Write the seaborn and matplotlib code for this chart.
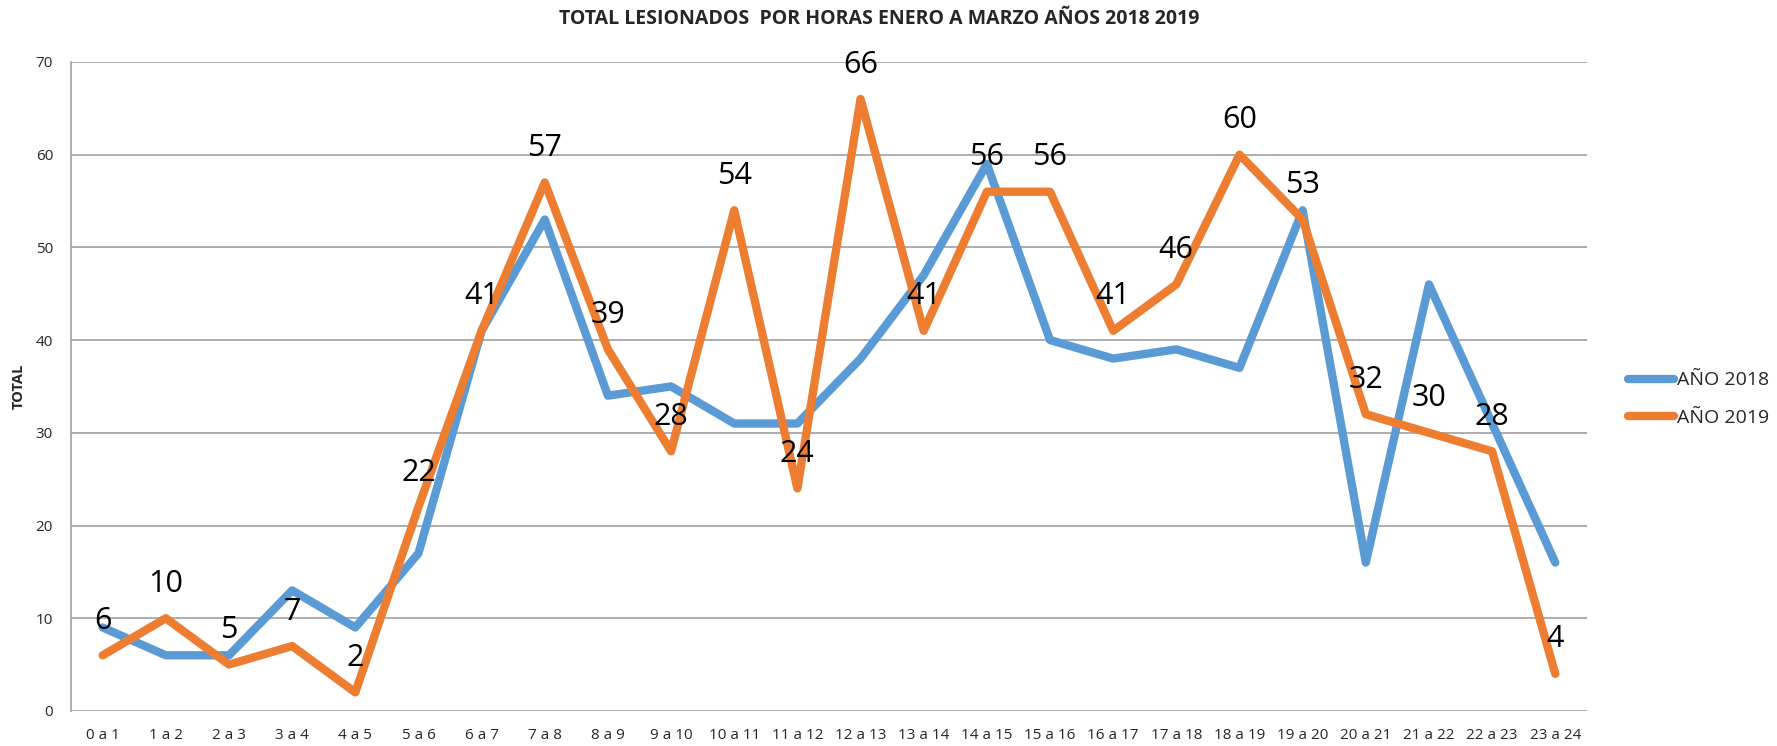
import pandas as pd
import matplotlib
matplotlib.use('Agg')
import matplotlib.pyplot as plt
import seaborn as sns

horas = ['0 a 1', '1 a 2', '2 a 3', '3 a 4', '4 a 5', '5 a 6', '6 a 7', '7 a 8',
         '8 a 9', '9 a 10', '10 a 11', '11 a 12', '12 a 13', '13 a 14', '14 a 15',
         '15 a 16', '16 a 17', '17 a 18', '18 a 19', '19 a 20', '20 a 21',
         '21 a 22', '22 a 23', '23 a 24']
anio_2018 = [9, 6, 6, 13, 9, 17, 41, 53, 34, 35, 31, 31, 38, 47, 59, 40, 38, 39,
             37, 54, 16, 46, 31, 16]
anio_2019 = [6, 10, 5, 7, 2, 22, 41, 57, 39, 28, 54, 24, 66, 41, 56, 56, 41, 46,
             60, 53, 32, 30, 28, 4]

df = pd.DataFrame({
    'hora': horas * 2,
    'pos': list(range(len(horas))) * 2,
    'total': anio_2018 + anio_2019,
    'serie': ['AÑO 2018'] * len(horas) + ['AÑO 2019'] * len(horas),
})

sns.set_style('white')
plt.rcParams['font.family'] = ['Open Sans', 'DejaVu Sans']

fig = plt.figure(figsize=(17.77, 7.46), dpi=100)
ax = fig.add_axes([0.040, 0.047, 0.853, 0.870])

palette = {'AÑO 2018': '#5B9BD5', 'AÑO 2019': '#ED7D31'}
sns.lineplot(data=df, x='pos', y='total', hue='serie', palette=palette,
             linewidth=6, ax=ax, legend=True)
for line in ax.lines:
    line.set_solid_capstyle('round')
    line.set_solid_joinstyle('round')

# etiquetas solo para 2019
for i, v in enumerate(anio_2019):
    ax.annotate(str(v), (i, v), xytext=(0, 14), textcoords='offset points',
                ha='center', va='bottom', fontsize=22, color='black')

ax.set_xlim(-0.5, len(horas) - 0.5)
ax.set_ylim(0, 70)
ax.set_yticks(range(0, 71, 10))
ax.set_xticks(range(len(horas)))
ax.set_xticklabels(horas, fontsize=11)
ax.tick_params(axis='y', labelsize=11, length=0, pad=13)
ax.tick_params(axis='x', length=0, pad=12)
ax.yaxis.grid(True, color='#A0A0A0', linewidth=1.2)
ax.set_axisbelow(True)
for s in ['top', 'right', 'bottom']:
    ax.spines[s].set_visible(False)
ax.spines['left'].set_color('#A0A0A0')
ax.spines['left'].set_linewidth(1.2)

ax.set_xlabel('')
ax.set_ylabel('TOTAL', fontsize=10.5, fontweight='bold')
ax.yaxis.set_label_coords(-0.030, 0.5)
fig.text(0.495, 0.975, 'TOTAL LESIONADOS  POR HORAS ENERO A MARZO AÑOS 2018 2019',
         ha='center', va='center', fontsize=14, fontweight='bold')

handles, labels = ax.get_legend_handles_labels()
fig.legend(handles, labels, loc='center left', bbox_to_anchor=(0.916, 0.465),
           frameon=False, fontsize=14, handlelength=2.4, handletextpad=0.15,
           labelspacing=1.0, borderpad=0, borderaxespad=0)
ax.get_legend().remove()

fig.savefig('out.png', dpi=100)
